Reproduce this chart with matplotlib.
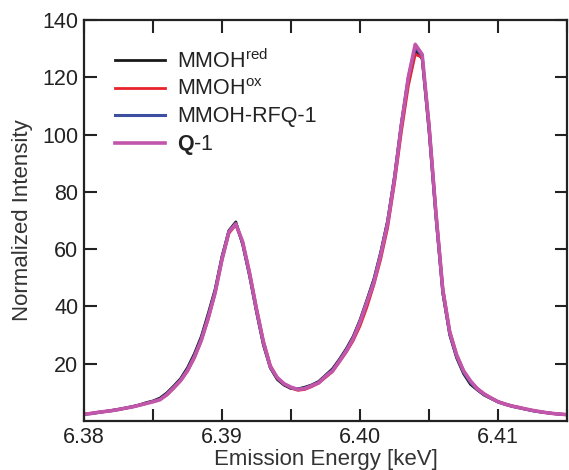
import matplotlib
matplotlib.use('Agg')
import matplotlib.pyplot as plt
from matplotlib.ticker import MultipleLocator, FuncFormatter

plt.rcParams['font.family'] = ['Liberation Sans', 'DejaVu Sans']
plt.rcParams['mathtext.fontset'] = 'custom'
plt.rcParams['mathtext.rm'] = 'Liberation Sans'
plt.rcParams['mathtext.bf'] = 'Liberation Sans:bold'

# emission energy grid [keV]
energia = [6.3800, 6.3805, 6.3810, 6.3815, 6.3820, 6.3825, 6.3830, 6.3835, 6.3840, 6.3845,
           6.3850, 6.3855, 6.3860, 6.3865, 6.3870, 6.3875, 6.3880, 6.3885, 6.3890, 6.3895,
           6.3900, 6.3905, 6.3910, 6.3915, 6.3920, 6.3925, 6.3930, 6.3935, 6.3940, 6.3945,
           6.3950, 6.3955, 6.3960, 6.3965, 6.3970, 6.3975, 6.3980, 6.3985, 6.3990, 6.3995,
           6.4000, 6.4005, 6.4010, 6.4015, 6.4020, 6.4025, 6.4030, 6.4035, 6.4040, 6.4045,
           6.4050, 6.4055, 6.4060, 6.4065, 6.4070, 6.4075, 6.4080, 6.4085, 6.4090, 6.4095,
           6.4100, 6.4105, 6.4110, 6.4115, 6.4120, 6.4125, 6.4130, 6.4135, 6.4140, 6.4145,
           6.4150]

mmoh_red = [2.3, 2.6, 2.9, 3.3, 3.7, 4.1, 4.5, 5.0, 5.6, 6.4,
            7.0, 8.0, 9.8, 12.2, 14.8, 18.6, 23.5, 29.5, 37.5, 46.0,
            57.5, 66.5, 69.5, 61.5, 50.5, 38.0, 26.5, 18.5, 14.5, 12.5,
            11.3, 11.2, 11.8, 12.6, 13.8, 16.0, 18.2, 21.5, 25.2, 29.5,
            35.3, 42.3, 49.5, 59.0, 70.0, 85.5, 104.0, 119.5, 129.5, 126.5,
            101.0, 71.0, 44.5, 30.0, 22.0, 16.5, 12.8, 10.8, 9.0, 7.8,
            6.6, 5.8, 5.1, 4.6, 4.1, 3.6, 3.2, 2.9, 2.6, 2.3,
            2.2]

mmoh_ox = [2.4, 2.7, 3.0, 3.3, 3.6, 4.0, 4.4, 4.9, 5.5, 6.1,
           6.8, 7.5, 9.0, 11.4, 14.0, 17.4, 22.0, 28.0, 35.5, 44.5,
           56.0, 65.5, 68.5, 62.5, 52.0, 39.5, 28.0, 19.5, 15.0, 12.8,
           11.5, 10.7, 11.0, 12.0, 13.2, 15.2, 17.2, 20.6, 24.0, 28.0,
           33.2, 39.8, 47.5, 56.5, 67.5, 83.0, 101.0, 117.0, 128.0, 127.0,
           104.0, 73.5, 46.5, 31.5, 23.2, 17.6, 13.8, 11.4, 9.5, 8.1,
           6.8, 6.0, 5.3, 4.8, 4.2, 3.7, 3.3, 2.9, 2.6, 2.4,
           2.2]

rfq1 = [2.4, 2.6, 3.0, 3.3, 3.6, 4.0, 4.5, 5.0, 5.5, 6.2,
        6.8, 7.6, 9.4, 11.8, 14.4, 18.0, 22.8, 28.8, 36.6, 45.3,
        57.0, 66.2, 69.0, 62.0, 51.0, 38.5, 27.0, 18.8, 15.0, 12.8,
        11.6, 11.1, 11.5, 12.4, 13.5, 15.8, 17.8, 21.2, 24.8, 29.0,
        34.8, 41.8, 49.0, 58.5, 69.5, 85.0, 103.8, 120.0, 130.5, 127.5,
        102.5, 72.0, 45.0, 30.5, 22.5, 17.0, 13.4, 11.0, 9.2, 7.9,
        6.7, 5.9, 5.2, 4.7, 4.1, 3.6, 3.2, 2.9, 2.6, 2.4,
        2.2]

q1 = [2.4, 2.6, 3.0, 3.3, 3.6, 4.0, 4.5, 4.9, 5.5, 6.1,
      6.7, 7.4, 9.2, 11.6, 14.1, 17.6, 22.3, 28.2, 36.0, 44.8,
      56.5, 66.0, 68.8, 62.5, 51.5, 39.0, 27.5, 19.0, 15.2, 13.0,
      11.8, 11.0, 11.3, 12.3, 13.3, 15.6, 17.4, 20.8, 24.4, 28.7,
      34.5, 41.5, 48.3, 58.0, 69.0, 84.5, 103.5, 120.0, 131.5, 128.0,
      103.0, 72.5, 45.6, 31.0, 23.0, 17.5, 14.0, 11.2, 9.4, 8.0,
      6.7, 5.9, 5.2, 4.7, 4.2, 3.7, 3.3, 2.9, 2.6, 2.4,
      2.2]

etiquetas = [r'MMOH$^{\mathrm{red}}$', r'MMOH$^{\mathrm{ox}}$', 'MMOH-RFQ-1', r'$\mathbf{Q}$-1']
colores = ['#1a1a1a', '#e8232b', '#3d4fa1', '#c256ab']

fig = plt.figure(figsize=(5.69, 4.70), dpi=100)
ax = fig.add_axes([0.1476, 0.1043, 0.849, 0.8531])

series = [mmoh_red, mmoh_ox, rfq1, q1]
anchos = [2.0, 2.0, 2.2, 2.6]
for y, lab, c, w in zip(series, etiquetas, colores, anchos):
    ax.plot(energia, y, color=c, lw=w, label=lab)

ax.set_xlim(6.38, 6.415)
ax.set_ylim(0, 140)
ax.xaxis.set_major_locator(MultipleLocator(0.005))
ax.xaxis.set_major_formatter(FuncFormatter(
    lambda v, p: '%.2f' % v if abs(round(v * 200) % 2) == 0 else ''))
ax.set_yticks([20, 40, 60, 80, 100, 120, 140])

ax.tick_params(direction='in', length=9, width=1.5, top=True, right=True,
               labelsize=15.5, pad=4, colors='#222222', labelcolor='#222222')
for s in ax.spines.values():
    s.set_linewidth(1.6)
    s.set_color('#222222')

ax.set_xlabel('Emission Energy [keV]', fontsize=16, labelpad=1, color='#333333')
ax.set_ylabel('Normalized Intensity', fontsize=16, labelpad=7, color='#333333')

ax.legend(loc='upper left', bbox_to_anchor=(0.025, 0.975), frameon=False,
          fontsize=15.5, handlelength=2.3, handletextpad=0.55, labelspacing=0.28,
          labelcolor='#222222')

fig.savefig('out.png', dpi=100)
